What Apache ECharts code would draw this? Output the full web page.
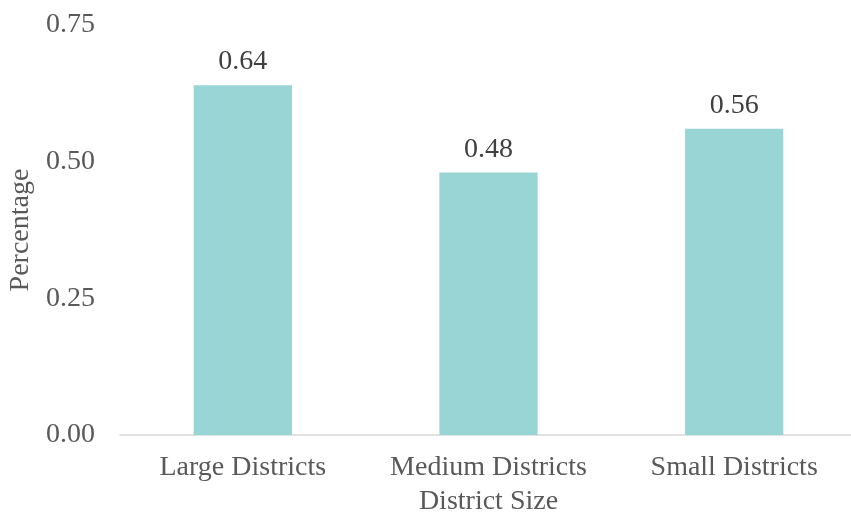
<!DOCTYPE html>
<html>
<head>
<meta charset="utf-8">
<script src="https://cdn.jsdelivr.net/npm/echarts@6/dist/echarts.min.js"></script>
<style>html,body{margin:0;padding:0;background:#fff}#c{width:851px;height:518px}</style>
</head>
<body>
<div id="c"></div>
<script>
const categories = ['Large Districts', 'Medium Districts', 'Small Districts'];
const values = [0.64, 0.48, 0.56];
const yTicks = { min: 0, max: 0.75, interval: 0.25 };

const font = 'Liberation Serif';
const textColor = '#595959';
const chart = echarts.init(document.getElementById('c'), null, { renderer: 'canvas' });
chart.setOption({
  animation: false,
  grid: { left: 120, top: 25, bottom: 83, width: 737, containLabel: false, outerBoundsMode: 'none' },
  xAxis: {
    type: 'category',
    data: categories,
    name: 'District Size',
    nameLocation: 'middle',
    nameGap: 53,
    nameTextStyle: { fontFamily: font, fontSize: 28, color: textColor },
    axisLine: { lineStyle: { color: '#d9d9d9', width: 1.5 } },
    axisTick: { show: false },
    axisLabel: { interval: 0, hideOverlap: false, fontFamily: font, fontSize: 28, color: textColor, margin: 19 }
  },
  yAxis: {
    type: 'value',
    min: yTicks.min, max: yTicks.max, interval: yTicks.interval,
    name: 'Percentage',
    nameLocation: 'middle',
    nameGap: 77,
    nameTextStyle: { fontFamily: font, fontSize: 28, color: textColor },
    splitLine: { show: false },
    axisLine: { show: false },
    axisTick: { show: false },
    axisLabel: { fontFamily: font, fontSize: 28, color: textColor, margin: 25,
      formatter: v => v.toFixed(2) }
  },
  series: [{
    type: 'bar',
    data: values,
    barWidth: '40%',
    itemStyle: { color: '#99D5D4' },
    label: { show: true, position: 'top', distance: 9, fontFamily: font, fontSize: 28, color: '#404040',
      formatter: p => p.value.toFixed(2) }
  }]
});
</script>
</body>
</html>
